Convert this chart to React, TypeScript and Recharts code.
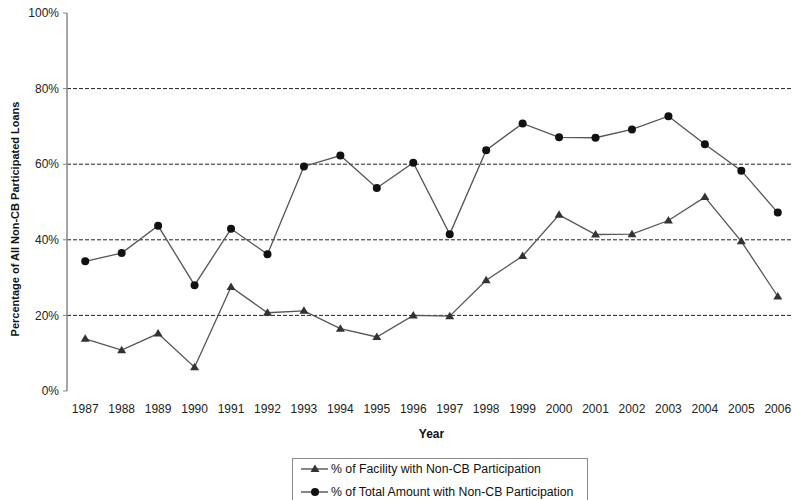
import { LineChart, Line, XAxis, YAxis, ReferenceLine, Label } from "recharts";

const years = [
  1987, 1988, 1989, 1990, 1991, 1992, 1993, 1994, 1995, 1996,
  1997, 1998, 1999, 2000, 2001, 2002, 2003, 2004, 2005, 2006,
];
const facilityPct = [
  13.8, 10.8, 15.2, 6.3, 27.5, 20.7, 21.2, 16.5, 14.3, 20.0,
  19.8, 29.3, 35.7, 46.6, 41.4, 41.5, 45.1, 51.3, 39.6, 25.0,
];
const amountPct = [
  34.3, 36.5, 43.7, 28.0, 42.9, 36.2, 59.4, 62.3, 53.7, 60.4,
  41.5, 63.7, 70.8, 67.1, 67.0, 69.2, 72.7, 65.3, 58.3, 47.2,
];
const yTicks = [0, 20, 40, 60, 80, 100];
const gridValues = [20, 40, 60, 80];
const facilityLabel = "% of Facility with Non-CB Participation";
const amountLabel = "% of Total Amount with Non-CB Participation";
const yTitle = "Percentage of All Non-CB Participated Loans";
const xTitle = "Year";

const data = years.map((year, i) => ({
  year,
  facility: facilityPct[i],
  amount: amountPct[i],
}));

// Excel style: tick marks sit between categories
const boundaryTicks = [...years.map((y) => y - 0.5), years[years.length - 1] + 0.5];
const xDomain = [boundaryTicks[0], boundaryTicks[boundaryTicks.length - 1]];

const font = '"Liberation Sans", Arial, sans-serif';

const Triangle = (props: any) => {
  const { cx, cy, key } = props;
  if (cx == null || cy == null) return <g key={key} />;
  return (
    <polygon
      key={key}
      points={`${cx},${cy - 4.5} ${cx + 4.5},${cy + 3} ${cx - 4.5},${cy + 3}`}
      fill="#333"
    />
  );
};

const Circle = (props: any) => {
  const { cx, cy, key } = props;
  if (cx == null || cy == null) return <g key={key} />;
  return <circle key={key} cx={cx} cy={cy} r={4} fill="#111" />;
};

function LegendRow({ top, label, marker }: { top: number; label: string; marker: "tri" | "dot" }) {
  return (
    <div style={{ position: "absolute", left: 0, top, height: 14, width: "100%" }}>
      <svg width={28} height={14} style={{ position: "absolute", left: 8, top: 0 }}>
        <line x1={0} y1={7} x2={27} y2={7} stroke="#444" strokeWidth={1.3} />
        {marker === "tri" ? (
          <polygon points="14,2.5 18.5,10 9.5,10" fill="#333" />
        ) : (
          <circle cx={14} cy={7} r={4} fill="#111" />
        )}
      </svg>
      <span
        style={{
          position: "absolute",
          left: 38,
          top: 0,
          lineHeight: "14px",
          fontSize: 12.3,
          color: "#111",
          whiteSpace: "nowrap",
        }}
      >
        {label}
      </span>
    </div>
  );
}

export default function App() {
  return (
    <div
      style={{
        position: "absolute",
        left: 0,
        top: 0,
        width: 792,
        height: 500,
        overflow: "hidden",
        background: "#fff",
        fontFamily: font,
      }}
    >
      <LineChart
        width={800}
        height={500}
        data={data}
        margin={{ top: 13, right: 4, bottom: 57, left: 7 }}
        style={{ fontFamily: font }}
      >
        <XAxis
          xAxisId="marks"
          type="number"
          dataKey="year"
          domain={xDomain}
          ticks={boundaryTicks}
          tickFormatter={() => ""}
          tickSize={4}
          height={0}
          axisLine={{ stroke: "#888", strokeWidth: 1.5 }}
          tickLine={{ stroke: "#777", strokeWidth: 1.2 }}
          allowDataOverflow
        />
        <XAxis
          xAxisId="years"
          type="number"
          dataKey="year"
          domain={xDomain}
          ticks={years}
          interval={0}
          axisLine={false}
          tickLine={false}
          tickSize={6}
          tickMargin={7}
          height={52}
          tick={{ fill: "#222", fontSize: 12 }}
          allowDataOverflow
        >
          <Label
            value={xTitle}
            position="insideBottom"
            offset={5}
            style={{ fontWeight: "bold", fontSize: 12, fill: "#111" }}
          />
        </XAxis>
        <YAxis
          domain={[0, 100]}
          ticks={yTicks}
          tickFormatter={(v: number) => `${v}%`}
          width={60}
          tickSize={4}
          tickMargin={4}
          axisLine={{ stroke: "#888", strokeWidth: 1.5 }}
          tickLine={{ stroke: "#888" }}
          tick={{ fill: "#222", fontSize: 12 }}
        >
          <Label
            content={() => (
              <text
                x={15}
                y={219}
                transform="rotate(-90 15 219)"
                textAnchor="middle"
                dominantBaseline="central"
                fontWeight="bold"
                fontSize={11}
                fill="#111"
              >
                {yTitle}
              </text>
            )}
          />
        </YAxis>
        {gridValues.map((v) => (
          <ReferenceLine
            key={v}
            y={v}
            xAxisId="years"
            stroke="#222"
            strokeWidth={1}
            strokeDasharray="4 2"
          />
        ))}
        <Line
          xAxisId="years"
          type="linear"
          dataKey="facility"
          stroke="#555"
          strokeWidth={1.3}
          dot={Triangle}
          activeDot={false}
          isAnimationActive={false}
        />
        <Line
          xAxisId="years"
          type="linear"
          dataKey="amount"
          stroke="#555"
          strokeWidth={1.3}
          dot={Circle}
          activeDot={false}
          isAnimationActive={false}
        />
      </LineChart>
      <div
        style={{
          position: "absolute",
          left: 292,
          top: 458,
          width: 296,
          height: 60,
          border: "1px solid #888",
          boxSizing: "border-box",
        }}
      >
        <LegendRow top={3} label={facilityLabel} marker="tri" />
        <LegendRow top={26} label={amountLabel} marker="dot" />
      </div>
    </div>
  );
}
